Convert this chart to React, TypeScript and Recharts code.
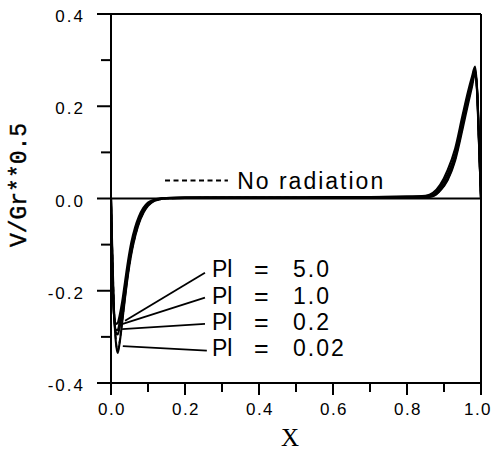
import React from "react";
import { LineChart, Line, XAxis, YAxis, ReferenceLine, ReferenceDot } from "recharts";

const X_GRID = [0, 0.004, 0.008, 0.013, 0.018, 0.023, 0.03, 0.038, 0.046, 0.055, 0.065, 0.075, 0.087, 0.1, 0.115, 0.13, 0.15, 0.2, 0.3, 0.4, 0.5, 0.6, 0.7, 0.8, 0.85, 0.87, 0.89, 0.91, 0.93, 0.95, 0.965, 0.975, 0.984, 0.99, 0.995, 1.0];

const PI_5_0 = [0, -0.17, -0.25, -0.272, -0.27, -0.255, -0.225, -0.18, -0.136, -0.095, -0.063, -0.04, -0.021, -0.009, -0.003, 0, 0.001, 0.002, 0.002, 0.002, 0.002, 0.003, 0.003, 0.004, 0.006, 0.012, 0.03, 0.062, 0.108, 0.18, 0.232, 0.262, 0.286, 0.23, 0.12, 0];
const PI_1_0 = [0, -0.16, -0.25, -0.285, -0.285, -0.27, -0.24, -0.193, -0.148, -0.105, -0.072, -0.047, -0.026, -0.012, -0.004, -0.001, 0.001, 0.002, 0.002, 0.002, 0.002, 0.003, 0.003, 0.004, 0.005, 0.008, 0.025, 0.053, 0.096, 0.17, 0.225, 0.255, 0.282, 0.22, 0.11, 0];
const PI_0_2 = [0, -0.15, -0.25, -0.29, -0.295, -0.28, -0.25, -0.203, -0.157, -0.113, -0.078, -0.051, -0.029, -0.014, -0.005, -0.001, 0.001, 0.002, 0.002, 0.002, 0.002, 0.002, 0.003, 0.003, 0.004, 0.006, 0.02, 0.045, 0.088, 0.158, 0.215, 0.248, 0.276, 0.225, 0.11, 0];
const PI_0_02 = [0, -0.13, -0.24, -0.31, -0.335, -0.315, -0.27, -0.215, -0.165, -0.12, -0.083, -0.055, -0.032, -0.016, -0.006, -0.002, 0, 0.001, 0.002, 0.002, 0.002, 0.002, 0.002, 0.003, 0.003, 0.005, 0.017, 0.04, 0.082, 0.15, 0.205, 0.24, 0.27, 0.228, 0.115, 0];
const NO_RAD = [0, -0.13, -0.235, -0.305, -0.33, -0.312, -0.268, -0.213, -0.163, -0.118, -0.082, -0.054, -0.031, -0.015, -0.006, -0.002, 0, 0.001, 0.002, 0.002, 0.002, 0.002, 0.002, 0.003, 0.003, 0.005, 0.018, 0.042, 0.085, 0.155, 0.21, 0.244, 0.274, 0.226, 0.112, 0];

const X_TICKS = [0, 0.1, 0.2, 0.3, 0.4, 0.5, 0.6, 0.7, 0.8, 0.9, 1.0];
const Y_TICKS = [-0.4, -0.3, -0.2, -0.1, 0, 0.1, 0.2, 0.3, 0.4];

const PI_LABELS = ["5.0", "1.0", "0.2", "0.02"];
const LEADER_START = [
  { x: 0.038, y: -0.265 },
  { x: 0.032, y: -0.272 },
  { x: 0.03, y: -0.283 },
  { x: 0.032, y: -0.32 },
];
const LEADER_END = [
  { x: 0.254, y: -0.161 },
  { x: 0.254, y: -0.215 },
  { x: 0.254, y: -0.272 },
  { x: 0.259, y: -0.33 },
];
const LABEL_POS = [
  { x: 0.273, y: -0.152 },
  { x: 0.273, y: -0.211 },
  { x: 0.273, y: -0.267 },
  { x: 0.273, y: -0.324 },
];

const data = X_GRID.map((x, i) => ({
  x,
  pi50: PI_5_0[i],
  pi10: PI_1_0[i],
  pi02: PI_0_2[i],
  pi002: PI_0_02[i],
  norad: NO_RAD[i],
}));

const FONT = "'Liberation Sans', Arial, sans-serif";

const isMajor = (v: number) => Math.round(v * 10) % 2 === 0;

const XTick = (props: any) => {
  const { x, y, payload } = props;
  const major = isMajor(payload.value);
  const shift = payload.value === 1 ? -3 : 1;
  return (
    <g>
      <line x1={x} x2={x} y1={y} y2={y + (major ? 12 : 9)} stroke="#000" strokeWidth={2} />
      {major && (
        <text x={x + shift} y={y + 32} textAnchor="middle" fontFamily={FONT} fontSize={17} letterSpacing={1.5} fill="#000">
          {payload.value.toFixed(1)}
        </text>
      )}
    </g>
  );
};

const YTick = (props: any) => {
  const { x, y, payload } = props;
  const major = isMajor(payload.value);
  return (
    <g>
      <line x1={x} x2={x - (major ? 14 : 10)} y1={y} y2={y} stroke="#000" strokeWidth={2} />
      {major && (
        <text x={x - 26} y={y + 8} textAnchor="end" fontFamily={FONT} fontSize={17} letterSpacing={2} fill="#000">
          {payload.value.toFixed(1)}
        </text>
      )}
    </g>
  );
};

const piLabel = (value: string) => (props: any) => {
  const { viewBox } = props;
  const x = viewBox.x;
  const y = viewBox.y;
  const common = { fontFamily: FONT, fontSize: 23, fill: "#000", dominantBaseline: "central" as const };
  return (
    <g>
      <text x={x} y={y} {...common}>Pl</text>
      <text x={x + 42} y={y} {...common} fontSize={25}>=</text>
      <text x={x + 81} y={y} {...common} letterSpacing={2}>{value}</text>
    </g>
  );
};

const noRadLabel = (props: any) => {
  const { viewBox } = props;
  return (
    <text x={viewBox.x} y={viewBox.y} fontFamily={FONT} fontSize={23} letterSpacing={2} fill="#000" dominantBaseline="central">
      No radiation
    </text>
  );
};

const xLabel = (props: any) => {
  const { viewBox } = props;
  return (
    <text x={viewBox.x + viewBox.width / 2 - 6} y={446} textAnchor="middle" fontFamily="'Liberation Serif', serif" fontSize={25} fill="#000">
      X
    </text>
  );
};

const yLabel = () => (
  <text
    x={20}
    y={185}
    transform="rotate(-90, 20, 185)"
    textAnchor="middle"
    dominantBaseline="central"
    fontFamily="'Liberation Mono', monospace"
    fontSize={23}
    fill="#000"
    stroke="#000"
    strokeWidth={0.4}
  >
    V/Gr**0.5
  </text>
);

export default function App() {
  return (
    <div style={{ position: "absolute", left: 0, top: 0, width: 493, height: 452, background: "#fff" }}>
      <LineChart width={493} height={452} data={data} margin={{ top: 14, right: 12, left: 51, bottom: 29 }}>
        <XAxis
          dataKey="x"
          type="number"
          domain={[0, 1]}
          ticks={X_TICKS}
          interval={0}
          tickSize={0}
          tickMargin={0}
          tickLine={false}
          axisLine={{ stroke: "#000", strokeWidth: 2 }}
          tick={<XTick />}
          height={40}
          label={{ content: xLabel }}
        />
        <YAxis
          type="number"
          domain={[-0.4, 0.4]}
          ticks={Y_TICKS}
          interval={0}
          tickSize={0}
          tickMargin={0}
          tickLine={false}
          axisLine={{ stroke: "#000", strokeWidth: 2 }}
          tick={<YTick />}
          width={60}
          allowDataOverflow
          label={{ content: yLabel }}
        />
        <ReferenceLine y={0.4} stroke="#000" strokeWidth={2} />
        <ReferenceLine x={1} stroke="#000" strokeWidth={2} />
        <ReferenceLine y={0} stroke="#000" strokeWidth={1.8} />

        <Line dataKey="norad" type="monotone" stroke="#000" strokeWidth={1.8} strokeDasharray="5 3" dot={false} isAnimationActive={false} />
        <Line dataKey="pi50" type="monotone" stroke="#000" strokeWidth={2.1} dot={false} isAnimationActive={false} />
        <Line dataKey="pi10" type="monotone" stroke="#000" strokeWidth={2.1} dot={false} isAnimationActive={false} />
        <Line dataKey="pi02" type="monotone" stroke="#000" strokeWidth={2.1} dot={false} isAnimationActive={false} />
        <Line dataKey="pi002" type="monotone" stroke="#000" strokeWidth={2.1} dot={false} isAnimationActive={false} />

        {PI_LABELS.map((lab, i) => (
          <ReferenceLine key={"l" + i} segment={[LEADER_START[i], LEADER_END[i]]} stroke="#000" strokeWidth={1.8} />
        ))}
        {PI_LABELS.map((lab, i) => (
          <ReferenceDot key={"d" + i} x={LABEL_POS[i].x} y={LABEL_POS[i].y} r={0} fill="none" stroke="none" label={{ content: piLabel(lab) }} />
        ))}

        <ReferenceLine segment={[{ x: 0.146, y: 0.039 }, { x: 0.316, y: 0.039 }]} stroke="#000" strokeWidth={1.8} strokeDasharray="5 3.5" />
        <ReferenceDot x={0.341} y={0.039} r={0} fill="none" stroke="none" label={{ content: noRadLabel }} />
      </LineChart>
    </div>
  );
}
